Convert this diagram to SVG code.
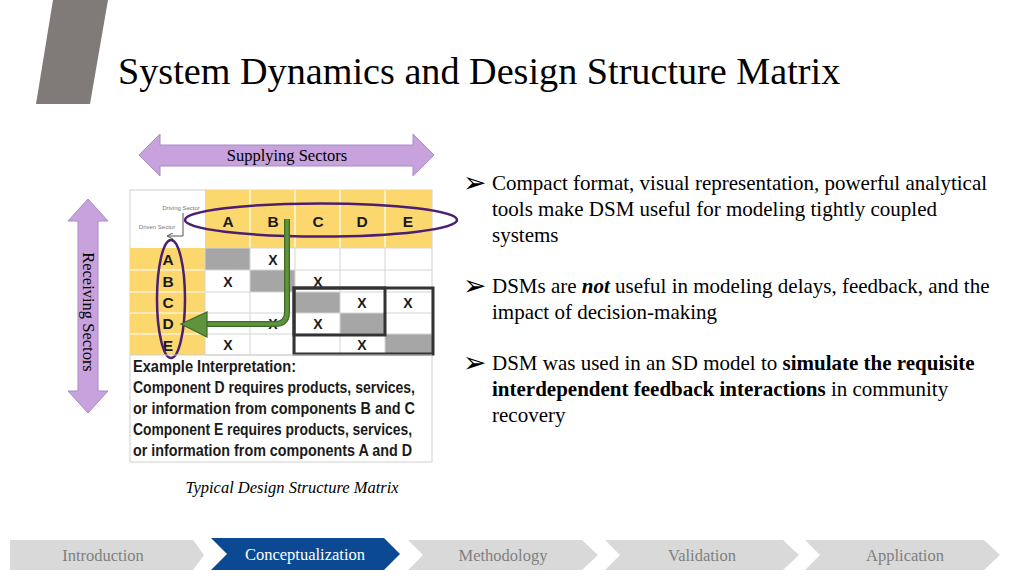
<svg xmlns="http://www.w3.org/2000/svg" width="1024" height="576" viewBox="0 0 1024 576">
<style>
.serif{font-family:"Liberation Serif","Times New Roman",serif;fill:#000}
.sans{font-family:"Liberation Sans",Arial,sans-serif}
.hdr{font-family:"Liberation Sans",Arial,sans-serif;font-weight:bold;font-size:15.5px;fill:#1a1a1a;text-anchor:middle}
.x{font-family:"Liberation Sans",Arial,sans-serif;font-weight:bold;font-size:14px;fill:#1a1a1a;text-anchor:middle}
.yel{fill:#fbd76e}
.dg{fill:#a6a6a6}
.grid{stroke:#d4d4d4;stroke-width:1;fill:none}
.ygrid{stroke:#ffffff;stroke-width:1.2;fill:none}
.ex{font-family:"Liberation Sans",Arial,sans-serif;font-weight:bold;font-size:16px;fill:#1a1a1a}
.bul{font-family:"Liberation Serif","Times New Roman",serif;font-size:21px;fill:#000}
.arrowmark{font-family:"DejaVu Sans",sans-serif;font-size:28px;fill:#000}
.nav{fill:#d9d9d9}
.navt{font-family:"Liberation Serif","Times New Roman",serif;font-size:16.5px;fill:#808080;text-anchor:middle}
.lav{fill:#c8a2dc;stroke:#a88cc4;stroke-width:1}
</style>
<defs>
<marker id="sm" markerWidth="6" markerHeight="6" refX="5" refY="3" orient="auto" markerUnits="userSpaceOnUse">
<path d="M0,0 L6,3 L0,6" fill="none" stroke="#555" stroke-width="1"/>
</marker>
</defs>
<rect width="1024" height="576" fill="#ffffff"/>

<g id="logo-bar">
<polygon points="53,0 108,0 90,104 36,104" fill="#807b79"/>
</g>

<g id="title">
<text class="serif" x="118" y="84" font-size="38.2">System Dynamics and Design Structure Matrix</text>
</g>

<g id="supplying-arrow">
<polygon class="lav" points="139,155 160,134 160,145 413,145 413,134 434,155 413,176 413,166 160,166 160,176"/>
<text class="serif" x="287" y="161" font-size="16.5" text-anchor="middle">Supplying Sectors</text>
</g>

<g id="receiving-arrow">
<polygon class="lav" points="88,199 108,221 98,221 98,391 108,391 88,413 68,391 78,391 78,221 68,221"/>
<text class="serif" font-size="16.5" text-anchor="middle" transform="translate(82.5,312) rotate(90)">Receiving Sectors</text>
</g>

<g id="dsm-matrix">
<rect x="130" y="190" width="302" height="272" fill="#ffffff" stroke="#d0d0d0"/>
<rect class="yel" x="205" y="190" width="227" height="58"/>
<rect class="yel" x="130" y="248" width="75" height="107"/>
<rect class="dg" x="205" y="248" width="45" height="22"/>
<rect class="dg" x="250" y="270" width="45" height="22"/>
<rect class="dg" x="295" y="292" width="45" height="21"/>
<rect class="dg" x="340" y="313" width="45" height="21"/>
<rect class="dg" x="385" y="334" width="47" height="21"/>
<path class="ygrid" d="M250,190V248M295,190V248M340,190V248M385,190V248M130,270H205M130,292H205M130,313H205M130,334H205"/>
<path class="grid" d="M205,248H432M205,270H432M205,292H432M205,313H432M205,334H432M205,355H432M250,248V355M295,248V355M340,248V355M385,248V355M205,248V355"/>
<text class="hdr" x="228" y="227">A</text>
<text class="hdr" x="273" y="227">B</text>
<text class="hdr" x="318" y="227">C</text>
<text class="hdr" x="362" y="227">D</text>
<text class="hdr" x="408" y="227">E</text>
<text class="hdr" x="168" y="265">A</text>
<text class="hdr" x="168" y="287">B</text>
<text class="hdr" x="168" y="308">C</text>
<text class="hdr" x="168" y="329">D</text>
<text class="hdr" x="168" y="350.5">E</text>
<text class="x" x="273" y="264.5">X</text>
<text class="x" x="228" y="286.5">X</text>
<text class="x" x="318" y="286.5">X</text>
<text class="x" x="362" y="308">X</text>
<text class="x" x="408" y="308">X</text>
<text class="x" x="273" y="329">X</text>
<text class="x" x="318" y="329">X</text>
<text class="x" x="228" y="350">X</text>
<text class="x" x="362" y="350">X</text>
<text class="sans" x="181" y="210" font-size="6" fill="#777" text-anchor="middle">Driving Sector</text>
<text class="sans" x="157" y="229" font-size="6" fill="#777" text-anchor="middle">Driven Sector</text>
<rect x="294" y="288" width="139" height="66" fill="none" stroke="#333" stroke-width="3"/>
<rect x="294" y="288" width="91" height="47" fill="none" stroke="#333" stroke-width="3"/>
<ellipse cx="321" cy="220" rx="136" ry="16.5" fill="none" stroke="#4b1f72" stroke-width="2.5"/>
<ellipse cx="171" cy="299" rx="14" ry="59" fill="none" stroke="#4b1f72" stroke-width="2.5"/>
<line x1="130" y1="355" x2="432" y2="355" stroke="#d0d0d0"/>
<text class="ex" x="133" y="372" textLength="163" lengthAdjust="spacingAndGlyphs">Example Interpretation:</text>
<text class="ex" x="133" y="393" textLength="282" lengthAdjust="spacingAndGlyphs">Component D requires products, services,</text>
<text class="ex" x="133" y="414" textLength="282" lengthAdjust="spacingAndGlyphs">or information from components  B and C</text>
<text class="ex" x="133" y="435" textLength="279" lengthAdjust="spacingAndGlyphs">Component E requires products, services,</text>
<text class="ex" x="133" y="456" textLength="279" lengthAdjust="spacingAndGlyphs">or information from components A and D</text>
</g>

<g id="connectors">
<path d="M183,213 V236 H168" fill="none" stroke="#555" stroke-width="1" marker-end="url(#sm)"/>
<path d="M287,219 V312 Q287,324 275,324 H206" fill="none" stroke="#3e6b28" stroke-width="6"/>
<path d="M287,219 V312 Q287,324 275,324 H206" fill="none" stroke="#5f943c" stroke-width="3.5"/>
<polygon points="207,312 207,337 181,324" fill="#5f943c" stroke="#3e6b28" stroke-width="1.2"/>
</g>

<g id="caption">
<text class="serif" x="292" y="493" font-size="16.5" font-style="italic" text-anchor="middle">Typical Design Structure Matrix</text>
</g>

<g id="bullets">
<text class="arrowmark" x="463" y="192">➢</text>
<text class="bul" x="492" y="190">Compact format, visual representation, powerful analytical</text>
<text class="bul" x="492" y="216">tools make DSM useful for modeling tightly coupled</text>
<text class="bul" x="492" y="242">systems</text>
<text class="arrowmark" x="463" y="295">➢</text>
<text class="bul" x="492" y="293">DSMs are <tspan font-weight="bold" font-style="italic">not</tspan> useful in modeling delays, feedback, and the</text>
<text class="bul" x="492" y="319">impact of decision-making</text>
<text class="arrowmark" x="463" y="372">➢</text>
<text class="bul" x="492" y="370">DSM was used in an SD model to <tspan font-weight="bold">simulate the requisite</tspan></text>
<text class="bul" x="492" y="396"><tspan font-weight="bold">interdependent feedback interactions</tspan> in community</text>
<text class="bul" x="492" y="422">recovery</text>
</g>

<g id="nav-introduction">
<polygon class="nav" points="10,540 193,540 204,555 193,570 10,570"/>
<text class="navt" x="103" y="561">Introduction</text>
</g>
<g id="nav-conceptualization">
<polygon points="211,538 384,538 400,554 384,570 211,570 227,554" fill="#0b4a93"/>
<text class="navt" x="305" y="560" style="fill:#ffffff">Conceptualization</text>
</g>
<g id="nav-methodology">
<polygon class="nav" points="408,540 582,540 598,555 582,570 408,570 423,555"/>
<text class="navt" x="503" y="561">Methodology</text>
</g>
<g id="nav-validation">
<polygon class="nav" points="605,540 783,540 799,555 783,570 605,570 620,555"/>
<text class="navt" x="702" y="561">Validation</text>
</g>
<g id="nav-application">
<polygon class="nav" points="805,540 984,540 1000,555 984,570 805,570 820,555"/>
<text class="navt" x="905" y="561">Application</text>
</g>
</svg>
